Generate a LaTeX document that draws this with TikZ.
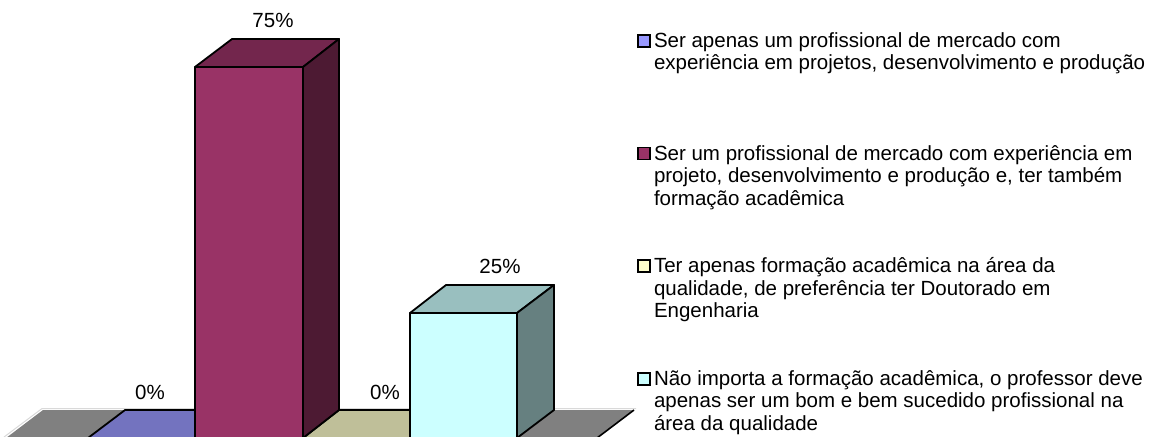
\documentclass[tikz,border=0pt]{standalone}
\usepackage{fontspec}
\setmainfont{Liberation Sans}
\usetikzlibrary{positioning,calc}

\definecolor{lilac}{HTML}{9999FF}
\definecolor{lilactop}{HTML}{7373BF}
\definecolor{plum}{HTML}{993366}
\definecolor{plumtop}{HTML}{73264D}
\definecolor{plumside}{HTML}{4D1A33}
\definecolor{ivory}{HTML}{FFFFCC}
\definecolor{ivorytop}{HTML}{BFBF99}
\definecolor{aqua}{HTML}{CCFFFF}
\definecolor{aquatop}{HTML}{99BFBF}
\definecolor{aquaside}{HTML}{668080}
\definecolor{floorgray}{HTML}{808080}
\definecolor{floorlight}{HTML}{D9D9D9}

\begin{document}
\begin{tikzpicture}[x=1pt,y=-1pt,
  face/.style={draw=black,line width=1.8pt,line join=round},
  pct/.style={anchor=base,inner sep=0pt,font=\fontsize{20.5}{22.5}\selectfont},
  keybox/.style={draw=black,line width=1.6pt,minimum size=12pt,inner sep=0pt},
  keytext/.style={inner sep=0pt,align=left,font=\fontsize{20.5}{22.5}\selectfont}]

  \useasboundingbox (0,0) rectangle (1155,436);
  \clip (0,0) rectangle (1155,436);

  \fill[floorgray] (6,438) -- (43,410) -- (634,410) -- (597,438) -- cycle;
  \draw[floorlight,line width=1pt] (4,437) -- (42,408.5) -- (636,408.5);
  \draw[black,line width=1.6pt] (597,438) -- (634,410);

  \draw[face,fill=lilactop] (88,438) -- (125,410) -- (232,410) -- (195,438) -- cycle;
  \draw[face,fill=ivorytop] (303,438) -- (339,410) -- (446,410) -- (410,438) -- cycle;

  \draw[face,fill=plum] (195,438) rectangle (303,67);
  \draw[face,fill=plumtop] (195,67) -- (232,39) -- (339,39) -- (303,67) -- cycle;
  \draw[face,fill=plumside] (303,67) -- (339,39) -- (339,410) -- (303,438) -- cycle;

  \draw[face,fill=aqua] (410,438) rectangle (517,313);
  \draw[face,fill=aquatop] (410,313) -- (446,285) -- (554,285) -- (517,313) -- cycle;
  \draw[face,fill=aquaside] (517,313) -- (554,285) -- (554,410) -- (517,438) -- cycle;

  \node[pct] (v1) at (150,399) {0\%};
  \node[pct] (v2) at (273,28) {75\%};
  \node[pct] (v3) at (385,399) {0\%};
  \node[pct] (v4) at (500,273) {25\%};

  \node[keybox,fill=lilac] (k1) at (644,41) {};
  \node[keybox,fill=plum] (k2) [below=99pt of k1] {};
  \node[keybox,fill=ivory] (k3) [below=99pt of k2] {};
  \node[keybox,fill=aqua] (k4) [below=99pt of k3] {};

  \node[keytext] (t1) [right=3pt of k1.north east,anchor=north west,yshift=2.75pt]
    {\strut Ser apenas um profissional de mercado com\\experiência em projetos, desenvolvimento e produção};
  \node[keytext] (t2) [right=3pt of k2.north east,anchor=north west,yshift=2.75pt]
    {\strut Ser um profissional de mercado com experiência em\\projeto, desenvolvimento e produção e, ter também\\formação acadêmica};
  \node[keytext] (t3) [right=3pt of k3.north east,anchor=north west,yshift=2.75pt]
    {\strut Ter apenas formação acadêmica na área da\\qualidade, de preferência ter Doutorado em\\Engenharia};
  \node[keytext] (t4) [right=3pt of k4.north east,anchor=north west,yshift=2.75pt]
    {\strut Não importa a formação acadêmica, o professor deve\\apenas ser um bom e bem sucedido profissional na\\área da qualidade};

\end{tikzpicture}
\end{document}
